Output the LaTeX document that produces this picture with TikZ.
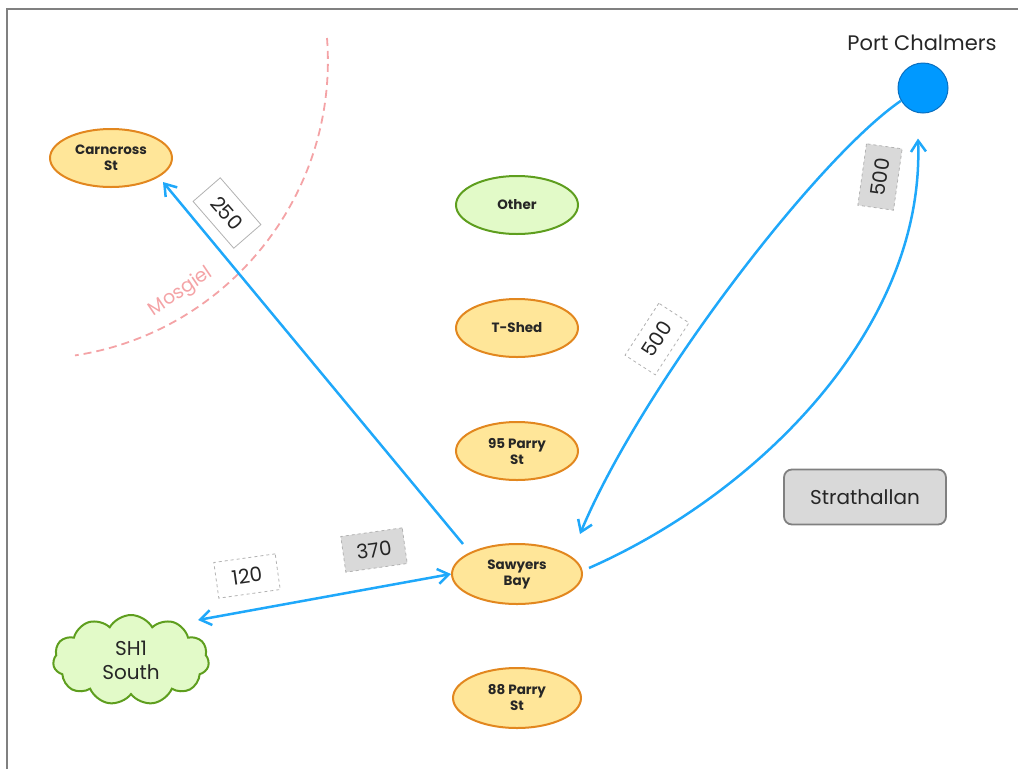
\documentclass[tikz,border=0pt]{standalone}
\usepackage{fontspec}
\setmainfont{Poppins}
\usepackage{tikz}
\usetikzlibrary{positioning,arrows.meta,shapes.geometric,shapes.symbols,calc}

\definecolor{placefill}{HTML}{FFE699}
\definecolor{placeline}{HTML}{E2871F}
\definecolor{greenfill}{HTML}{E2FAC8}
\definecolor{greenline}{HTML}{5E9E1E}
\definecolor{flow}{HTML}{1FA8FA}
\definecolor{portfill}{HTML}{0099FF}
\definecolor{portline}{HTML}{0A6FC0}
\definecolor{boxgray}{HTML}{D9D9D9}
\definecolor{mosgielpink}{HTML}{F4A3A6}
\definecolor{ink}{HTML}{262626}

\begin{document}
\begin{tikzpicture}[
  x=1pt, y=-1pt,
  node distance=63pt,
  place/.style={draw=placeline, fill=placefill, ellipse, line width=2pt, minimum width=122pt, minimum height=58pt, inner sep=0pt, align=center, text=ink, font=\fontsize{13.5}{16}\selectfont\bfseries},
  other/.style={place, draw=greenline, fill=greenfill},
  qty/.style={draw=gray!60, fill=white, line width=0.8pt, minimum width=62pt, minimum height=36pt, inner sep=0pt, text=ink, font=\fontsize{20}{22}\selectfont},
  qtyg/.style={qty, fill=boxgray, dashed},
  arr/.style={draw=flow, line width=2.5pt, -{Straight Barb[length=11pt,width=15pt]}}
]
\useasboundingbox (0,0) rectangle (1018,769);
\draw[gray, line width=1.5pt] (7,769) -- (7,9) -- (1018,9);

% sites
\node[place] (cc) at (111,158) {Carncross\\St};
\node[other] (oth) at (517,205) {Other};
\node[place, below=of oth] (ts) {T-Shed};
\node[place, below=of ts] (p95) {95 Parry\\St};
\node[place, below=62pt of p95, minimum width=130pt, minimum height=60pt] (sb) {Sawyers\\Bay};
\node[place, below=62pt of sb, minimum width=128pt, minimum height=60pt] (p88) {88 Parry\\St};
\node[cloud, cloud puffs=11, cloud puff arc=120, aspect=1.8, draw=greenline, fill=greenfill, line width=2pt, minimum width=156pt, minimum height=90pt, inner sep=0pt, align=center, text=ink, font=\fontsize{20}{24}\selectfont] (sh) at (131,660) {SH1\\South};
\node[draw=gray, fill=boxgray, rounded corners=8pt, line width=1.8pt, minimum width=162pt, minimum height=55pt, text=ink, font=\fontsize{20}{22}\selectfont] (str) at (865,497) {Strathallan};
\node[circle, fill=portfill, draw=portline, line width=1pt, minimum size=50pt] (pc) at (923,88) {};
\node[text=ink, font=\fontsize{21}{24}\selectfont] (pclbl) at (922,43) {Port Chalmers};

% Mosgiel boundary
\draw[mosgielpink, line width=1.8pt, dash pattern=on 8pt off 5pt] (327,38) arc[start angle=4.4, end angle=-81.3, radius=298pt];
\node[text=mosgielpink, rotate=34, font=\fontsize{19}{22}\selectfont] (mos) at (181,292) {Mosgiel};

% flows
\draw[arr] ($(sb)+(-54,-30)$) -- ($(cc)+(52,24)$);
\draw[arr, {Straight Barb[length=11pt,width=15pt]}-{Straight Barb[length=11pt,width=15pt]}] (sb.west) -- ($(sh)+(67,-40)$);
\draw[arr] (pc.210) .. controls (815,160) and (640,390) .. ($(sb)+(63,-40)$);
\draw[arr] ($(sb.east)+(6,-6)$) .. controls (755,495) and (925,330) .. ($(pc.south)+(-5,25)$);

% quantities
\node[qty, rotate=-49] (q250) at (227,213) {250};
\node[qty, dashed, rotate=8] (q120) at (247,576) {120};
\node[qtyg, rotate=8] (q370) at (374,550) {370};
\node[qty, dashed, rotate=57] (q500a) at (657,339) {500};
\node[qtyg, rotate=82] (q500b) at (880,177) {500};
\end{tikzpicture}
\end{document}
